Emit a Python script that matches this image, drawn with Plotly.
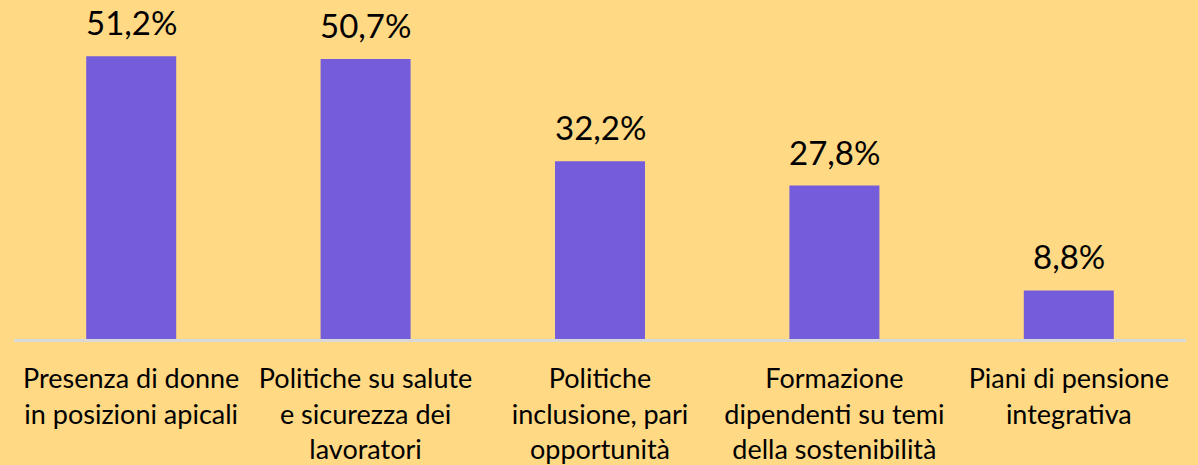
import plotly.graph_objects as go

categories = [
    "Presenza di donne<br>in posizioni apicali",
    "Politiche su salute<br>e sicurezza dei<br>lavoratori",
    "Politiche<br>inclusione, pari<br>opportunità",
    "Formazione<br>dipendenti su temi<br>della sostenibilità",
    "Piani di pensione<br>integrativa",
]
values = [51.2, 50.7, 32.2, 27.8, 8.8]
labels = ["51,2%", "50,7%", "32,2%", "27,8%", "8,8%"]

BG = "#FFD984"
BAR = "#755CDB"
FONT = "Lato"

fig = go.Figure(go.Bar(
    x=categories, y=values, marker_color=BAR, marker_line_width=0,
))

for c, v, t in zip(categories, values, labels):
    fig.add_annotation(x=c, y=v, text=t, showarrow=False, yanchor="bottom",
                       yshift=12, font=dict(family=FONT, size=33, color="black"))

fig.update_layout(
    width=1198, height=465,
    margin=dict(l=14, r=12, t=0, b=126),
    paper_bgcolor=BG, plot_bgcolor=BG,
    bargap=0.616,
    showlegend=False,
    font=dict(family=FONT, color="black"),
)
fig.update_xaxes(showline=True, linecolor="#D9D9D9", linewidth=3,
                 tickfont=dict(family=FONT, size=27, color="black"),
                 ticks="", ticklabelstandoff=14, showgrid=False)
fig.update_yaxes(visible=False, range=[0, 61.4], showgrid=False)

fig.write_html("out.html", config={"displayModeBar": False},
               post_script="document.body.style.margin='0';")
